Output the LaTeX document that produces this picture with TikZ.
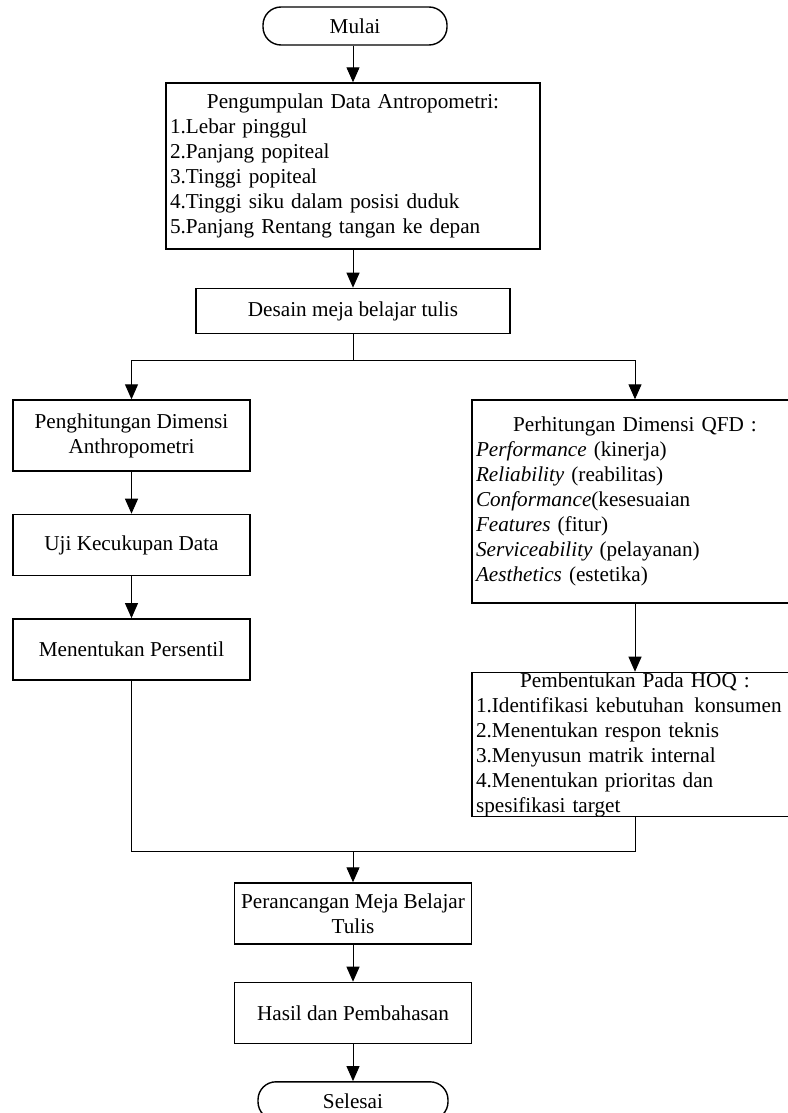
\documentclass[tikz,border=0pt]{standalone}
\usepackage{fontspec}
\setmainfont{Liberation Serif}
\usetikzlibrary{arrows.meta, positioning}

\begin{document}
\begin{tikzpicture}[x=0.5pt, y=-0.5pt, >={Triangle[width=6.5pt,length=7.5pt]}, line width=0.5pt, node distance=19pt]
\tikzstyle{every node}=[font=\fontsize{10.6}{12.5}\selectfont]
\tikzstyle{proses}=[draw=black, line width=0.7pt, align=center, inner sep=1.5pt, minimum width=118.5pt, minimum height=30.5pt]
\tikzstyle{daftar}=[draw=black, line width=0.7pt, align=left, inner xsep=2pt, inner ysep=1pt]
\tikzstyle{terminal}=[draw=black, line width=0.7pt, rounded corners=9pt, minimum width=92pt, minimum height=19pt]

\useasboundingbox (0,0) rectangle (787,1113);

% kolom tengah
\node[terminal] (mulai) at (355,26) {Mulai};
\node[daftar, text width=183pt, minimum height=83pt] (data) at (353,166)
  {\makebox[\linewidth]{Pengumpulan Data Antropometri:}\\
   1.Lebar pinggul\\
   2.Panjang popiteal\\
   3.Tinggi popiteal\\
   4.Tinggi siku dalam posisi duduk\\
   5.Panjang Rentang tangan ke depan};
\node[proses, minimum width=157pt, minimum height=22.5pt] (desain) [below=of data] {Desain meja belajar tulis};

% kolom kiri
\node[proses, minimum height=35.5pt] (hitung) at (131.5,435.5) {Penghitungan Dimensi\\Anthropometri};
\node[proses] (uji) [below=21pt of hitung] {Uji Kecukupan Data};
\node[proses] (persentil) [below=21pt of uji] {Menentukan Persentil};

% kolom kanan
\node[daftar, text width=159pt, minimum height=101.5pt] (qfd) at (635,501.5)
  {\makebox[\linewidth]{Perhitungan Dimensi QFD :}\\
   \textit{Performance} (kinerja)\\
   \textit{Reliability} (reabilitas)\\
   \textit{Conformance}(kesesuaian\\
   \textit{Features} (fitur)\\
   \textit{Serviceability} (pelayanan)\\
   \textit{Aesthetics} (estetika)};
\node[daftar, text width=159pt, inner ysep=0pt] (hoq) [below=34pt of qfd]
  {\makebox[\linewidth]{Pembentukan Pada HOQ :}\\
   \mbox{1.Identifikasi kebutuhan\enspace{}konsumen}\\
   2.Menentukan respon teknis\\
   3.Menyusun matrik internal\\
   4.Menentukan prioritas dan\\
   spesifikasi target};

% bagian akhir
\node[proses] (rancang) at (353,913.5) {Perancangan Meja Belajar\\Tulis};
\node[proses] (hasil) [below=18.5pt of rancang] {Hasil dan Pembahasan};
\node[terminal, minimum width=95pt] (selesai) [below=18.5pt of hasil] {Selesai};

\coordinate (cabang) at (353,360);
\coordinate (gabung) at (353,851);

\path[->] (mulai.south -| data.north) edge (data)
          (data) edge (desain)
          (hitung) edge (uji)
          (uji) edge (persentil)
          (qfd) edge (hoq)
          (rancang) edge (hasil)
          (hasil) edge (selesai);

\draw (desain) -- (cabang);
\draw[->] (cabang) -| (hitung);
\draw[->] (cabang) -| (qfd);
\draw (persentil) |- (gabung);
\draw (hoq) |- (gabung);
\draw[->] (gabung) -- (rancang);
\end{tikzpicture}
\end{document}
